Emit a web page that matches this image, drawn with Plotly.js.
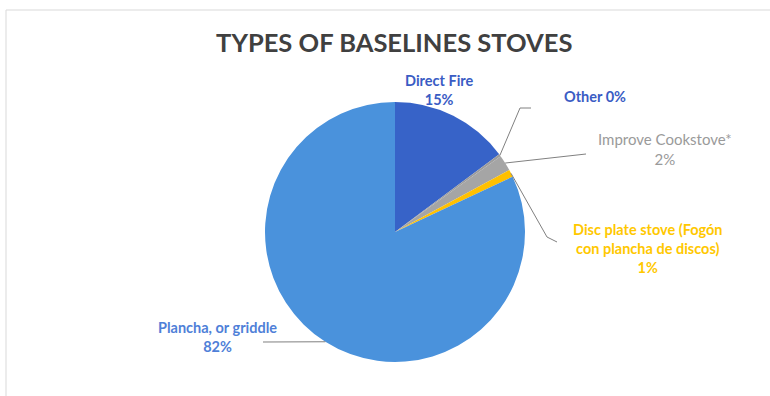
<!DOCTYPE html>
<html>
<head>
<meta charset="utf-8">
<script src="https://cdn.plot.ly/plotly-3.0.1.min.js"></script>
<style>html,body{margin:0;padding:0;background:#fff;}#chart{width:770px;height:396px;}</style>
</head>
<body>
<div id="chart"></div>
<script>
// ---- data ----
const categories = ["Direct Fire", "Other", "Improve Cookstove*", "Disc plate stove (Fogón<br>con plancha de discos)", "Plancha, or griddle"];
const values = [14.8, 0.3, 2.0, 0.9, 82.0];
const labelSeparators = ["<br>", " ", "<br>", "<br>", "<br>"];
const colors = ["#3763C8", "#9C9C9C", "#A5A5A5", "#FFC000", "#4A92DC"];
const labelColors = ["#3A5CC4", "#3A5CC4", "#9A9A9A", "#FFC800", "#4F7FD8"];
const titleText = "TYPES OF BASELINES STOVES";

// ---- layout helpers (pixel -> paper) ----
const W = 770, H = 396;
const px = x => x / W;
const py = y => 1 - y / H;
const cx = 395, cy = 232, R = 130;

const total = values.reduce((a, b) => a + b, 0);
const pct = values.map(v => Math.round(100 * v / total) + "%");

// edge points of each slice mid-angle (clockwise from 12 o'clock)
let cum = 0;
const edge = values.map(v => {
  const mid = (cum + v / 2) / total * 2 * Math.PI;
  cum += v;
  return [cx + R * Math.sin(mid), cy - R * Math.cos(mid)];
});

// label anchor positions (layout) and leader-line bends
const labelPos = [[439, 90], [595, 96], [665, 149], [648, 248], [217, 337]];
const leaders = [
  null,
  [[520, 108], [531, 108]],
  [[586, 154]],
  [[547, 237], [557, 242]],
  [[263, 342]]
];

const shapes = [
  {type: "line", xref: "paper", yref: "paper", x0: px(6), x1: 1, y0: py(10), y1: py(10), line: {color: "#d9d9d9", width: 1}},
  {type: "line", xref: "paper", yref: "paper", x0: px(6), x1: px(6), y0: py(10), y1: 0, line: {color: "#d9d9d9", width: 1}}
];
leaders.forEach((pts, i) => {
  if (!pts) return;
  let prev = edge[i];
  pts.forEach(p => {
    shapes.push({type: "line", xref: "paper", yref: "paper", x0: px(prev[0]), y0: py(prev[1]), x1: px(p[0]), y1: py(p[1]), line: {color: "#808080", width: 1}});
    prev = p;
  });
});

const annotations = categories.map((c, i) => ({
  xref: "paper", yref: "paper", x: px(labelPos[i][0]), y: py(labelPos[i][1]),
  xanchor: "center", yanchor: "middle", showarrow: false, align: "center",
  text: "<b>" + c + labelSeparators[i] + pct[i] + "</b>",
  font: {family: "Lato, 'Open Sans', sans-serif", size: 14.5, color: labelColors[i]}
}));
annotations[2].text = categories[2] + labelSeparators[2] + pct[2];
annotations[2].font.size = 15;

const trace = {
  type: "pie",
  labels: categories,
  values: values,
  sort: false,
  direction: "clockwise",
  rotation: 0,
  textinfo: "none",
  hoverinfo: "label+percent",
  marker: {colors: colors, line: {width: 0}},
  domain: {x: [px(cx - R), px(cx + R)], y: [py(cy + R), py(cy - R)]},
  showlegend: false
};

const layout = {
  width: W, height: H,
  margin: {l: 0, r: 0, t: 0, b: 0},
  paper_bgcolor: "#fff",
  title: {text: "<b>" + titleText + "</b>", x: 0.512, xanchor: "center", y: py(43), yanchor: "middle",
          font: {family: "Lato, 'Open Sans', sans-serif", size: 25.5, color: "#404040"}},
  shapes: shapes,
  annotations: annotations,
  showlegend: false
};

Plotly.newPlot("chart", [trace], layout, {displayModeBar: false, staticPlot: true});
</script>
</body>
</html>
